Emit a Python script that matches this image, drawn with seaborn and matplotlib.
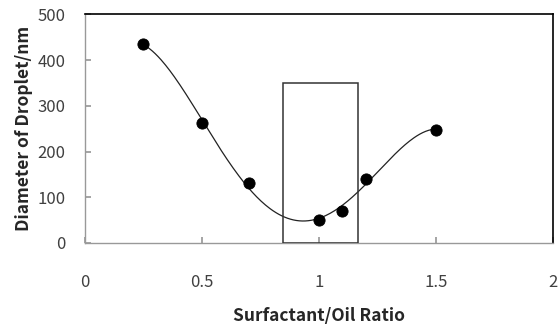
import numpy as np
import matplotlib
matplotlib.use("Agg")
import matplotlib.pyplot as plt
import seaborn as sns
import pandas as pd

# data
ratio = [0.25, 0.5, 0.7, 1.0, 1.1, 1.2, 1.5]
diameter = [435, 262, 131, 50, 70, 141, 248]

# highlighted region (rectangle)
box_x = [0.845, 1.165]
box_top = 350

x_ticks = [0, 0.5, 1, 1.5, 2]
x_tick_labels = ["0", "0.5", "1", "1.5", "2"]
y_ticks = [0, 100, 200, 300, 400, 500]

df = pd.DataFrame({"ratio": ratio, "diameter": diameter})

sns.set_theme(style="white")
plt.rcParams['font.family'] = ['Noto Sans CJK KR', 'DejaVu Sans']

fig = plt.figure(figsize=(5.58, 3.29), dpi=100)
ax = fig.add_axes([0.1523, 0.2614, 0.8387, 0.6951])

# smooth trend curve (polynomial fit like the spreadsheet trendline)
coef = np.polyfit(df["ratio"], df["diameter"], 4)
xs = np.linspace(min(ratio), max(ratio), 200)
trend = pd.DataFrame({"ratio": xs, "diameter": np.polyval(coef, xs)})
sns.lineplot(data=trend, x="ratio", y="diameter", ax=ax, color="#222222", linewidth=0.9)

sns.scatterplot(data=df, x="ratio", y="diameter", ax=ax, color="black", s=65,
                edgecolor="black", zorder=5)

ax.add_patch(plt.Rectangle((box_x[0], 0), box_x[1] - box_x[0], box_top,
                           fill=False, edgecolor="#333333", linewidth=1.1, zorder=4))

ax.set_xlim(0, 2)
ax.set_ylim(0, 500)
ax.set_xticks(x_ticks)
ax.set_xticklabels(x_tick_labels)
ax.set_yticks(y_ticks)

for side in ["left", "bottom"]:
    ax.spines[side].set_color("#999999")
    ax.spines[side].set_linewidth(1.0)
for side in ["top", "right"]:
    ax.spines[side].set_color("black")
    ax.spines[side].set_linewidth(1.2)

ax.tick_params(axis="x", direction="in", length=4, color="#999999", pad=22,
               labelsize=12, labelcolor="#404040", bottom=True)
ax.tick_params(axis="y", direction="in", length=4, color="#999999", pad=14,
               labelsize=12, labelcolor="#404040", left=True)

ax.set_xlabel("Surfactant/Oil Ratio", fontsize=12.5, fontweight="bold", labelpad=12)
ax.set_ylabel("Diameter of Droplet/nm", fontsize=12.5, fontweight="bold", labelpad=3)

fig.savefig("out.png", dpi=100)
